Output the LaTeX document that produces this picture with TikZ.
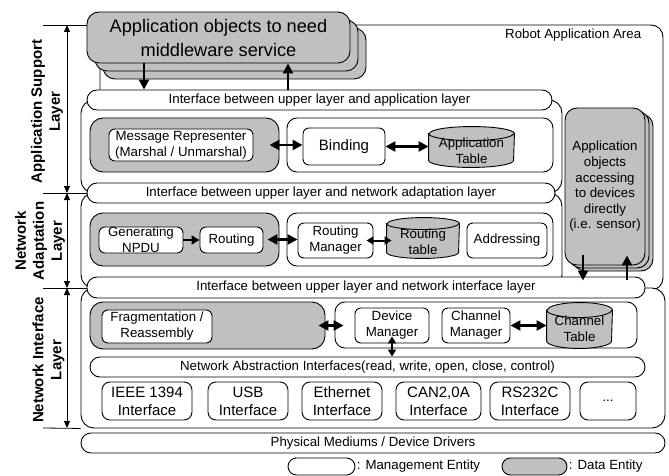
\documentclass[tikz,border=0pt]{standalone}
\usepackage{fontspec}
\setmainfont{Liberation Sans}
\usetikzlibrary{arrows.meta,calc}
\definecolor{dataGray}{RGB}{192,192,192}

% Database drum drawn over an empty frame node: #1 frame, #2 half width, #3 end radius
\newcommand\cylshape[3]{%
  \filldraw[fill=dataGray]
    ($(#1.north west)+(0,#3)$) -- ($(#1.south west)+(0,-#3)$)
    arc[start angle=180, end angle=0, x radius=#2, y radius=#3]
    -- ($(#1.north east)+(0,#3)$)
    arc[start angle=0, end angle=-180, x radius=#2, y radius=#3] -- cycle;
  \draw ($(#1.north west)+(0,#3)$)
    arc[start angle=180, end angle=0, x radius=#2, y radius=#3];
}

\begin{document}
\begin{tikzpicture}[x=1pt,y=-1pt,
  line width=0.9pt,
  base/.style={font=\fontsize{13.3}{16}\selectfont},
  sz/.style 2 args={minimum width=#1pt, minimum height=#2pt},
  mgmt/.style={draw, fill=white, rounded corners=6pt, inner sep=0pt, align=center, base},
  dat/.style={draw, fill=dataGray, rounded corners=13pt, inner sep=0pt},
  holder/.style={draw, fill=white, rounded corners=10pt, inner sep=0pt},
  layerbox/.style={draw, fill=white, rounded corners=13pt, inner sep=0pt},
  bar/.style={draw, fill=white, rounded corners=10pt, inner sep=0pt, base},
  iface/.style={mgmt, rounded corners=8pt, font=\fontsize{15}{18}\selectfont},
  stackbox/.style={draw, fill=dataGray, rounded corners=12pt, inner sep=0pt, align=center},
  layerlabel/.style={rotate=90, align=center, font=\bfseries\fontsize{15}{18}\selectfont},
  bigarrow/.style={line width=2.4pt, -{Triangle[length=10pt,width=10pt]}},
  bigdarrow/.style={line width=2.4pt, {Triangle[length=10pt,width=10pt]}-{Triangle[length=10pt,width=10pt]}},
  smalldarrow/.style={line width=2pt, {Triangle[length=7pt,width=8pt]}-{Triangle[length=7pt,width=8pt]}},
  dimarrow/.style={line width=0.8pt, {Triangle[length=7pt,width=6pt]}-{Triangle[length=7pt,width=6pt]}},
]
\useasboundingbox (0,0) rectangle (669,476);

% robot application area frame
\node[draw, rounded corners=12pt, sz={563}{265}, inner sep=0pt] (robot) at (381.5,157.5) {};
\node[base, anchor=east] (robotlbl) at (645,35) {Robot Application Area};

% layer frames
\node[layerbox, sz={481}{93}] (aslayer) at (321.5,146.5) {};
\node[layerbox, sz={481}{95}] (nalayer) at (321.5,240.5) {};
\node[layerbox, sz={584}{140}] (nilayer) at (373,358) {};

% interface bars
\node[bar, sz={465}{20}] (bar1) at (319.5,100) {Interface between upper layer and application layer};
\node[bar, sz={468}{20}] (bar2) at (321,193) {Interface between upper layer and network adaptation layer};
\node[bar, sz={558}{21}] (bar3) at (366,287.5) {Interface between upper layer and network interface layer};
\node[bar, sz={584}{20}] (phys) at (373,443) {Physical Mediums / Device Drivers};

% application support layer
\node[dat, sz={189}{54}] (asgray) at (184.5,145) {};
\node[mgmt, sz={144}{32}] (msgrep) at (181,145) {Message Representer\\(Marshal / Unmarshal)};
\node[holder, sz={266}{54}] (asholder) at (420,145) {};
\node[mgmt, sz={82}{37}, font=\fontsize{15}{18}\selectfont] (binding) at (344,146.5) {Binding};
\node[sz={85}{40}, inner sep=0pt] (apptable) at (471.5,147) {};
\cylshape{apptable}{42.5}{7}
\node[base, align=center] (apptabletxt) at (471.5,150.5) {Application\\Table};

% network adaptation layer
\node[dat, sz={189}{53}] (nagray) at (184.5,239.5) {};
\node[mgmt, sz={84}{26}] (npdu) at (141,240) {Generating\\NPDU};
\node[mgmt, sz={63}{26}] (routing) at (231.5,240) {Routing};
\node[holder, sz={266}{53}] (naholder) at (420,239.5) {};
\node[mgmt, sz={75}{35}] (routmgr) at (335.5,240.5) {Routing\\Manager};
\node[sz={72}{40}, inner sep=0pt] (routtable) at (423,238) {};
\cylshape{routtable}{36}{6}
\node[base, align=center] (routtabletxt) at (423,241.5) {Routing\\table};
\node[mgmt, sz={80}{35}] (addressing) at (507,240.5) {Addressing};

% network interface layer
\node[dat, sz={235}{47}] (nigray) at (207.5,325.5) {};
\node[mgmt, sz={110}{33}] (frag) at (157,326.5) {Fragmentation /\\Reassembly};
\node[holder, sz={302}{46}] (niholder) at (486,325) {};
\node[mgmt, sz={74}{35}] (devmgr) at (392,325.5) {Device\\Manager};
\node[mgmt, sz={68}{35}] (chanmgr) at (476,325.5) {Channel\\Manager};
\node[sz={65}{45}, inner sep=0pt] (chantable) at (579.5,325.5) {};
\cylshape{chantable}{32.5}{7.5}
\node[base, align=center] (chantabletxt) at (579.5,329) {Channel\\Table};
\node[bar, sz={555}{20}] (nai) at (367.5,367) {Network Abstraction Interfaces(read, write, open, close, control)};

\node[iface, sz={90}{38}] (ieee) at (147,401) {IEEE 1394\\Interface};
\node[iface, sz={80}{38}] (usb) at (248,401) {USB\\Interface};
\node[iface, sz={80}{38}] (ether) at (342,401) {Ethernet\\Interface};
\node[iface, sz={85}{38}] (can) at (438.5,401) {CAN2,0A\\Interface};
\node[iface, sz={80}{38}] (rs) at (530,401) {RS232C\\Interface};
\node[iface, sz={56}{38}, base] (more) at (608,401) {...};

% stacked application objects
\node[stackbox, sz={263}{51}] (topstackC) at (234.5,53.5) {};
\node[stackbox, sz={263}{51}] (topstackB) at (226.5,45.5) {};
\node[stackbox, sz={263}{51}, font=\fontsize{18.2}{24}\selectfont] (topstack) at (218.5,37.5) {Application objects to need\\middleware service};

\node[stackbox, sz={80}{157}] (devstackC) at (613,192.5) {};
\node[stackbox, sz={80}{157}] (devstackB) at (609,189.5) {};
\node[stackbox, sz={80}{157}, font=\fontsize{13.3}{15.6}\selectfont] (devstack) at (605,186.5) {Application\\objects\\accessing\\to devices\\directly\\(i.e. sensor)};

% connectors
\coordinate (xa) at (144,0);
\coordinate (xb) at (288,0);
\coordinate (xc) at (583,0);
\coordinate (xd) at (627,0);
\draw[bigarrow] (topstack.south -| xa) -- (bar1.north -| xa);
\draw[bigarrow] (bar1.north -| xb) -- (topstack.south -| xb);
\draw[bigarrow] ($(devstack.south -| xc)+(0,-10)$) -- ($(bar3.north -| xc)+(0,4)$);
\draw[bigarrow] ($(bar3.north -| xd)+(0,3)$) -- ($(devstack.south -| xd)+(0,-10)$);

\draw[bigdarrow] ($(asgray.east)+(-10,0)$) -- (binding.west |- asgray.east);
\draw[bigdarrow] (binding.east) -- (apptable.west |- binding.east);
\draw[line width=2.2pt, -{Triangle[length=8pt,width=9pt]}] (npdu.east) -- (routing.west);
\draw[bigdarrow] ($(nagray.east)+(-12,0)$) -- (routmgr.west |- nagray.east);
\draw[smalldarrow] ($(routmgr.east)+(-7,0)$) -- ($(routtable.west |- routmgr.east)+(5,0)$);
\draw[bigdarrow] ($(nigray.east)+(-7,0)$) -- ($(niholder.west |- nigray.east)+(9,0)$);
\draw[bigdarrow] (chanmgr.east) -- (chantable.west |- chanmgr.east);
\draw[smalldarrow] ($(devmgr.south)+(0,-7)$) -- (nai.north -| devmgr.south);

% layer extents
\coordinate (d1) at (67,25);
\coordinate (d2) at (67,193);
\coordinate (d3) at (67,288);
\coordinate (d4) at (67,428);
\coordinate (e1) at (43,25);
\coordinate (e2) at (43,193);
\coordinate (e3) at (43,288);
\coordinate (e4) at (43,428);
\draw[line width=0.8pt] (e1) -- (topstack.west |- e1);
\draw[line width=0.8pt] (e2) -- (bar2.west |- e2);
\draw[line width=0.8pt] (e3) -- (bar3.west |- e3);
\draw[line width=0.8pt] (e4) -- (nilayer.south west);
\draw[dimarrow] (d1) -- (d2);
\draw[dimarrow] (d2) -- (d3);
\draw[dimarrow] (d3) -- (d4);

\node[layerlabel] (lblas) at (47,111.5) {Application Support\\Layer};
\node[layerlabel] (lblna) at (40,241) {Network\\Adaptation\\Layer};
\node[layerlabel] (lblni) at (48.5,360) {Network Interface\\Layer};

% legend
\node[draw, fill=white, rounded corners=8.5pt, sz={67}{17}, inner sep=0pt] (legmgmt) at (321.5,466.5) {};
\node[base, anchor=west, inner sep=1pt] (legmgmttxt) at (legmgmt.east) {: Management Entity};
\node[draw, fill=dataGray, rounded corners=8.5pt, sz={65}{17}, inner sep=0pt] (legdata) at (534.5,466.5) {};
\node[base, anchor=west, inner sep=1pt] (legdatatxt) at (legdata.east) {: Data Entity};
\end{tikzpicture}
\end{document}
